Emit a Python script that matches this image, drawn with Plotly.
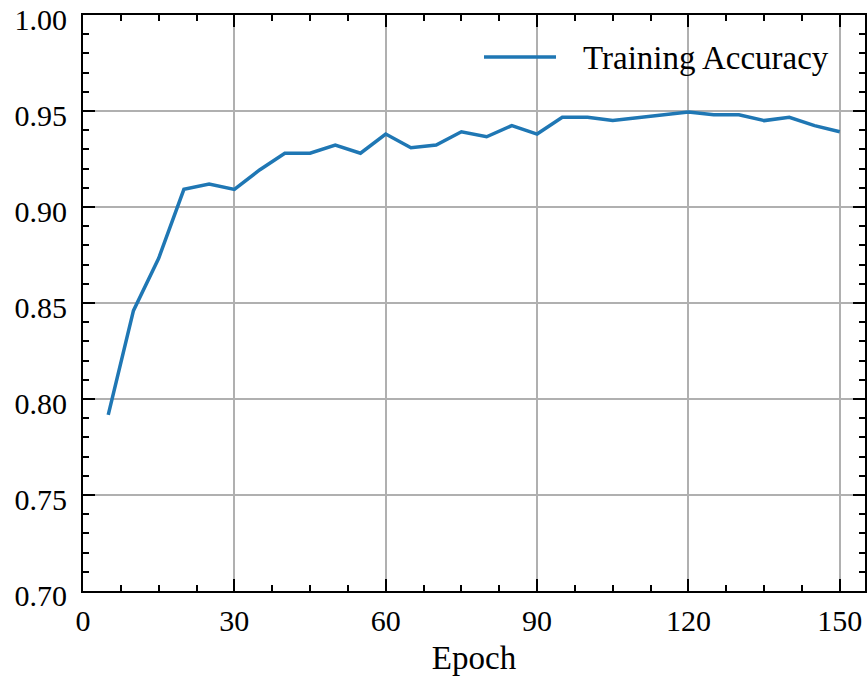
import plotly.graph_objects as go

epochs = [5, 10, 15, 20, 25, 30, 35, 40, 45, 50, 55, 60, 65, 70, 75,
          80, 85, 90, 95, 100, 105, 110, 115, 120, 125, 130, 135, 140, 145, 150]
train_acc = [0.7917, 0.846, 0.8733, 0.9092, 0.912, 0.9092, 0.9193, 0.928, 0.928, 0.9323,
             0.928, 0.938, 0.9309, 0.9323, 0.9392, 0.9366, 0.9424, 0.938, 0.9467, 0.9467,
             0.945, 0.9465, 0.948, 0.9495, 0.948, 0.948, 0.945, 0.9467, 0.9424, 0.9392]
series_name = "Training Accuracy"
x_ticks = [0, 30, 60, 90, 120, 150]
y_ticks = [0.70, 0.75, 0.80, 0.85, 0.90, 0.95, 1.00]
y_tick_labels = ["0.70", "0.75", "0.80", "0.85", "0.90", "0.95", "1.00"]

FONT = "Liberation Serif, Times New Roman, serif"
FS = 33
TFS = 30
W, H = 868, 685
L, R, T, B = 83, 3, 15, 94

fig = go.Figure()
fig.add_trace(go.Scatter(x=epochs, y=train_acc, mode="lines", name=series_name,
                         line=dict(color="#1f77b4", width=3.5), showlegend=False))

axis_common = dict(
    showline=True, linecolor="black", linewidth=2, mirror="allticks",
    ticks="inside", ticklen=12, tickwidth=2, tickcolor="black",
    showgrid=True, gridcolor="#b0b0b0", gridwidth=1.5, zeroline=False,
    tickfont=dict(family=FONT, size=TFS, color="black"), automargin=False,
)

fig.update_xaxes(range=[0, 155], tickvals=x_ticks, ticklabelstandoff=2,
                 minor=dict(dtick=7.5, tick0=0, ticks="inside", ticklen=6, tickwidth=2,
                            tickcolor="black", showgrid=False),
                 title=dict(text="Epoch", font=dict(family=FONT, size=FS, color="black"), standoff=10),
                 **axis_common)
fig.update_yaxes(range=[0.7, 1.0], tickvals=y_ticks, ticktext=y_tick_labels,
                 ticklabeloverflow="allow", ticklabelstandoff=8, ticklabelshift=4,
                 minor=dict(dtick=0.01, tick0=0.70, ticks="inside", ticklen=6, tickwidth=2,
                            tickcolor="black", showgrid=False),
                 **axis_common)

# legend key drawn manually to match the wider line sample
pw = W - L - R
ph = H - T - B
def px_x(p):
    return (p - L) / pw
def px_y(p):
    return 1 - (p - T) / ph

fig.add_shape(type="line", xref="paper", yref="paper",
              x0=px_x(484), x1=px_x(556), y0=px_y(57), y1=px_y(57),
              line=dict(color="#1f77b4", width=3.5))
fig.add_annotation(xref="paper", yref="paper", x=px_x(581), y=px_y(58),
                   xanchor="left", yanchor="middle", text=series_name, showarrow=False,
                   font=dict(family=FONT, size=FS, color="black"))

fig.update_layout(width=W, height=H, margin=dict(l=L, r=R, t=T, b=B, autoexpand=False),
                  plot_bgcolor="white", paper_bgcolor="white",
                  font=dict(family=FONT, size=FS, color="black"))

fig.write_html("out.html")
